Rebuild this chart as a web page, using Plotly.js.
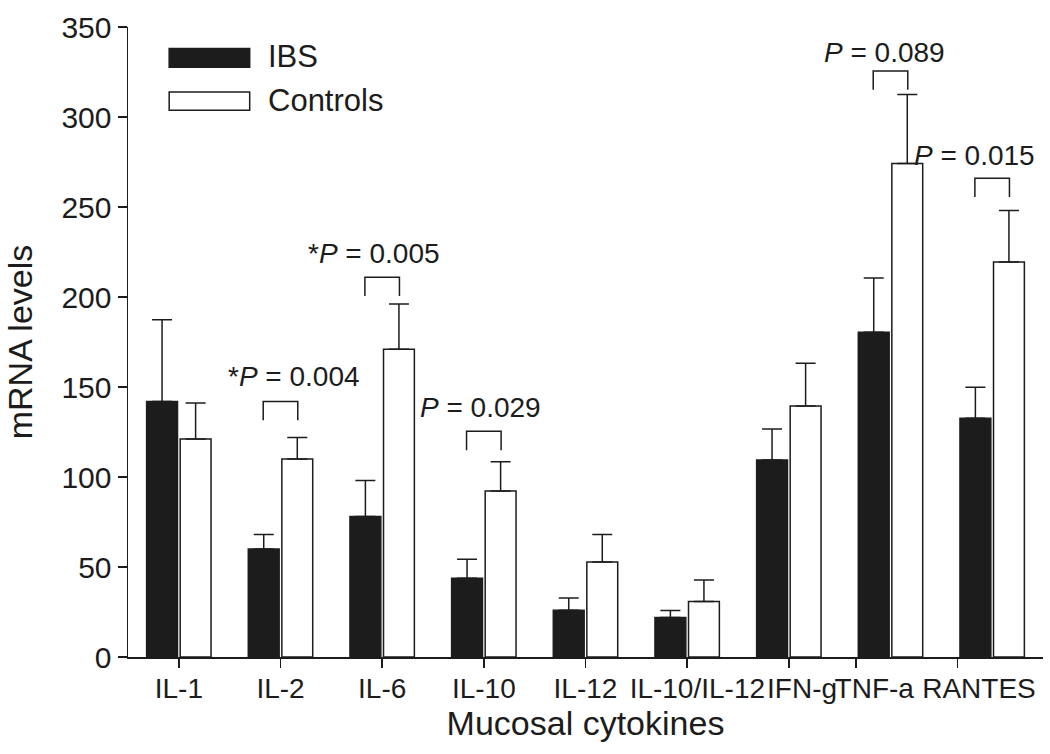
<!DOCTYPE html>
<html>
<head>
<meta charset="utf-8">
<script src="https://cdn.plot.ly/plotly-3.0.1.min.js"></script>
<style>html,body{margin:0;padding:0;background:#fff;}#chart{width:1050px;height:754px;}</style>
</head>
<body>
<div id="chart"></div>
<script>
// ---- data ----
const categories = ['IL-1', 'IL-2', 'IL-6', 'IL-10', 'IL-12', 'IL-10/IL-12', 'IFN-g', 'TNF-a', 'RANTES'];
const ibs = [142, 60, 78, 43.7, 26, 22, 109.4, 180.4, 132.6];
const ibsErr = [45.4, 8, 20, 10.6, 6.8, 3.9, 17.3, 30.1, 17.2];
const controls = [121.1, 110, 171, 92.2, 52.8, 30.9, 139.4, 274.1, 219.4];
const controlsErr = [20, 11.9, 25.1, 16.3, 15.2, 11.9, 23.8, 38.4, 28.6];
const pCategories = ['IL-2', 'IL-6', 'IL-10', 'TNF-a', 'RANTES'];
const pLabels = ['*<i>P</i> = 0.004', '*<i>P</i> = 0.005', '<i>P</i> = 0.029', '<i>P</i> = 0.089', '<i>P</i> = 0.015'];
const bracketTop = [142, 211, 125.4, 325.6, 266];
const seriesNames = ['IBS', 'Controls'];

// ---- layout tweaks (positions / styles) ----
const tickShift = [0, 0, 0, 0, 0, 0, 0, -0.34, -0.34];
const labelShift = [0, 0, 0, 0, 0, 0.1, 0.13, -0.16, -0.13];
const pTextShift = [0.13, -0.08, -0.03, -0.06, -0.17];
const pTextLift = [14, 13.3, 13.2, 10.5, 12.8];
const FONT = 'Liberation Sans, Arial, Helvetica, sans-serif';
const INK = '#1c1c1c';

const idx = categories.map((c, i) => i);

const traces = [
  {
    type: 'bar', name: seriesNames[0], x: idx, y: ibs,
    marker: {color: INK, line: {color: INK, width: 1.5}},
    error_y: {type: 'data', symmetric: false, array: ibsErr, arrayminus: ibsErr.map(() => 0),
              color: INK, thickness: 1.5, width: 10},
    showlegend: false, hoverinfo: 'y'
  },
  {
    type: 'bar', name: seriesNames[1], x: idx, y: controls,
    marker: {color: '#ffffff', line: {color: INK, width: 1.5}},
    error_y: {type: 'data', symmetric: false, array: controlsErr, arrayminus: controlsErr.map(() => 0),
              color: INK, thickness: 1.5, width: 10},
    showlegend: false, hoverinfo: 'y'
  },
  {
    type: 'scatter', mode: 'markers', x: idx, y: idx.map(() => null),
    xaxis: 'x2', yaxis: 'y', showlegend: false, hoverinfo: 'skip'
  }
];

const shapes = [];
const annotations = [];
const legH = 10.5;
pCategories.forEach((c, k) => {
  const i = categories.indexOf(c);
  const top = bracketTop[k];
  shapes.push({
    type: 'path', xref: 'x', yref: 'y',
    path: `M ${i - 0.17},${top - legH} L ${i - 0.17},${top} L ${i + 0.17},${top} L ${i + 0.17},${top - legH}`,
    line: {color: INK, width: 1.5}
  });
  annotations.push({
    xref: 'x', yref: 'y', x: i + pTextShift[k], y: top + pTextLift[k],
    text: pLabels[k], showarrow: false, xanchor: 'center', yanchor: 'middle',
    font: {family: FONT, size: 28, color: INK}
  });
});

// manual legend (large swatches as in the reference)
const legendRows = [
  {y0: 0.936, y1: 0.966, fill: INK, ty: 0.953},
  {y0: 0.868, y1: 0.897, fill: '#ffffff', ty: 0.884}
];
legendRows.forEach((r, k) => {
  shapes.push({type: 'rect', xref: 'paper', yref: 'paper', x0: 0.045, x1: 0.133, y0: r.y0, y1: r.y1,
               fillcolor: r.fill, line: {color: INK, width: 1.5}});
  annotations.push({xref: 'paper', yref: 'paper', x: 0.151, y: r.ty, xanchor: 'left', yanchor: 'middle',
                    text: seriesNames[k], showarrow: false, font: {family: FONT, size: 31, color: INK}});
});

const layout = {
  width: 1050, height: 754,
  margin: {l: 128, r: 7, t: 27, b: 97},
  paper_bgcolor: '#ffffff', plot_bgcolor: '#ffffff',
  font: {family: FONT, color: INK},
  barmode: 'group', bargap: 0.34, bargroupgap: 0.08,
  showlegend: false,
  xaxis: {
    type: 'linear', range: [-0.5, 8.5], fixedrange: true,
    tickmode: 'array', tickvals: idx.map((i) => i + tickShift[i]),
    showticklabels: false, ticks: 'outside', ticklen: 9, tickwidth: 1.5, tickcolor: INK,
    showline: true, linecolor: INK, linewidth: 1.5, showgrid: false, zeroline: false
  },
  xaxis2: {
    overlaying: 'x', anchor: 'y', side: 'bottom', type: 'linear', range: [-0.5, 8.5],
    tickmode: 'array', tickvals: idx.map((i) => i + labelShift[i]), ticktext: categories,
    ticks: '', showline: false, showgrid: false, zeroline: false, tickangle: 0,
    ticklabelstandoff: 12,
    tickfont: {family: FONT, size: 28, color: INK},
    title: {text: 'Mucosal cytokines', font: {family: FONT, size: 34, color: INK}, standoff: 6}
  },
  yaxis: {
    range: [0, 350], fixedrange: true,
    tickmode: 'array', tickvals: [0, 50, 100, 150, 200, 250, 300, 350],
    ticks: 'outside', ticklen: 9, tickwidth: 1.5, tickcolor: INK,
    showline: true, linecolor: INK, linewidth: 1.5, showgrid: false, zeroline: false,
    tickfont: {family: FONT, size: 30, color: INK},
    title: {text: 'mRNA levels', font: {family: FONT, size: 34, color: INK}, standoff: 18}
  },
  shapes: shapes,
  annotations: annotations
};

Plotly.newPlot('chart', traces, layout, {displayModeBar: false, staticPlot: true});
</script>
</body>
</html>
